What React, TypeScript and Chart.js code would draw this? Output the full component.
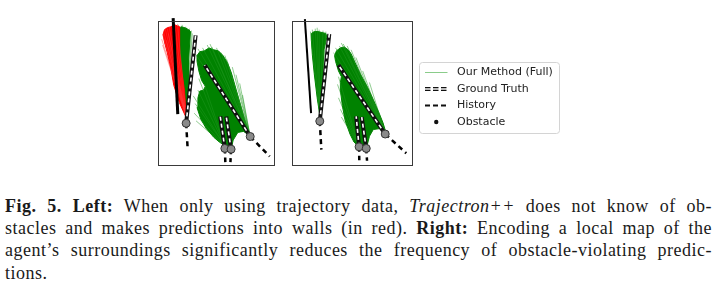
import React, { useEffect, useRef } from "react";
import { Chart, registerables } from "chart.js";
Chart.register(...registerables);

type P = [number, number];

// ---------- Left panel: Trajectron++ without map (coordinates in panel units, y down) ----------
const leftWall: P[] = [[16.3, -3], [21.3, 97]];
const leftAgents: P[] = [[30.3, 106.5], [99.3, 120.3], [72, 132.7], [78.7, 133.5]];
const leftHistoryEnds: P[] = [[32, 134], [120.3, 141], [72.5, 147], [78, 147]];
const leftTruthEnds: P[] = [[40.5, 15], [50.3, 46], [67, 99.3], [73.5, 99.5]];
const leftRedFan: P[] = [[30.5, 101], [23, 85], [17, 67], [14, 50], [10, 33], [7, 22], [5.5, 14], [7, 9], [10, 7], [14, 6], [18, 4], [23, 6], [23, 20], [23.5, 33], [26, 55], [28.5, 72], [30.5, 101]];
const leftGreenFanA: P[] = [[30.5, 100], [28, 80], [26, 67], [23, 45], [21, 25], [20.5, 12], [22, 8], [25, 6], [29, 7], [33, 9], [35, 11], [34, 25], [33, 40], [32.5, 67], [31, 90], [30.5, 100]];
const leftGreenFanB: P[] = [[72, 130], [66, 126], [60, 121], [52, 112], [46, 102], [42, 90], [43, 80], [45, 73], [49, 72], [51, 68], [47, 62], [44, 52], [42, 42], [42, 36], [45, 32], [50, 31], [55, 28], [60, 30], [65, 31], [70, 36], [75, 44], [79, 54], [84, 71], [89, 88], [93, 102], [97, 114], [99, 119], [92, 115], [86, 116], [81, 124], [79, 132], [72, 130]];
const leftRedTips: P[] = [[5, 14], [6, 11], [8, 9], [10, 8], [12, 6], [15, 4], [18, 3], [9, 20], [11, 13], [4, 19], [5, 25], [21, 3]];
const leftGreenTipsA: P[] = [[22, 4], [26, 4], [30, 6], [34, 8], [36, 10], [37, 13]];
const leftGreenTipsB2: P[] = [[40, 34], [43, 29], [48, 28], [53, 25], [58, 27], [63, 28], [68, 33], [74, 40], [80, 48], [84, 56], [88, 65], [91, 77], [56, 24], [72, 36]];
const leftGreenTipsB3: P[] = [[38, 78], [40, 86], [39, 96], [43, 72], [44, 60], [50, 66], [41, 104]];

// ---------- Right panel: with local map encoding ----------
const rightWall: P[] = [[13.3, -2], [19.7, 96]];
const rightAgents: P[] = [[28.7, 104.3], [96.3, 117.7], [69.3, 131], [76.7, 132.7]];
const rightHistoryEnds: P[] = [[30.3, 134], [118, 137.7], [69.5, 145], [77.5, 145.5]];
const rightTruthEnds: P[] = [[38.5, 13.5], [48, 46], [66.3, 99.3], [72, 100]];
const rightGreenFanA: P[] = [[29, 100], [26, 80], [23, 55], [21, 35], [20, 20], [20, 13], [23, 11], [27, 11], [31, 12], [35, 13], [36, 17], [33, 30], [32, 50], [31, 75], [30, 92], [29, 100]];
const rightGreenFanB: P[] = [[69, 131], [64, 126], [60, 118], [55, 104], [52, 88], [50, 72], [50, 64], [51, 58], [48, 52], [45, 42], [44, 36], [46, 31], [50, 28], [54, 27], [58, 30], [61, 34], [65, 43], [71, 56], [78, 69], [84, 82], [90, 96], [94, 106], [97, 116], [91, 112], [84, 113], [80, 120], [77, 132], [69, 131]];
const rightGreenTipsA: P[] = [[19, 11], [21, 9], [24, 8], [28, 9], [32, 10], [35, 11], [26, 7]];
const rightGreenTipsB2: P[] = [[43, 33], [45, 28], [49, 26], [53, 24], [57, 26], [61, 30], [66, 38], [73, 52], [80, 64], [51, 23]];
const rightGreenTipsB3: P[] = [[48, 58], [47, 66], [48, 80], [50, 92], [51, 100]];

// ---------- Legend ----------
const legendLabels = ["Our Method (Full)", "Ground Truth", "History", "Obstacle"];

const GREEN = "rgb(0,130,0)";
const GREEN_HAIR = "rgba(30,150,30,0.55)";
const RED = "rgb(255,0,0)";
const RED_HAIR = "rgba(255,60,60,0.5)";

interface Panel {
  wall: P[];
  wallWidth: number;
  agents: P[];
  historyEnds: P[];
  truthEnds: P[];
  fans: { outline: P[]; color: string; order: number }[];
  rays: { from: P; tips: P[]; color: string; order: number }[];
}

const pts = (a: P[]) => a.map(([x, y]) => ({ x, y }));

function buildDatasets(p: Panel) {
  const ds: any[] = [];
  p.fans.forEach((f) =>
    ds.push({ data: pts(f.outline), borderColor: f.color, backgroundColor: f.color, borderWidth: 1, fill: "shape", pointRadius: 0, order: f.order })
  );
  p.rays.forEach((r) =>
    r.tips.forEach((t) =>
      ds.push({ data: pts([r.from, t]), borderColor: r.color, borderWidth: 0.9, fill: false, pointRadius: 0, order: r.order })
    )
  );
  ds.push({ data: pts(p.wall), borderColor: "#000", borderWidth: p.wallWidth, fill: false, pointRadius: 0, order: 5, clip: 4 });
  p.agents.forEach((a, i) =>
    ds.push({ data: pts([a, p.truthEnds[i]]), borderColor: "#111", borderWidth: 4, fill: false, pointRadius: 0, order: 4 })
  );
  p.agents.forEach((a, i) =>
    ds.push({ data: pts([a, p.truthEnds[i]]), borderColor: "#fff", borderWidth: 1.6, borderDash: [4, 3], fill: false, pointRadius: 0, order: 3 })
  );
  p.agents.forEach((a, i) =>
    ds.push({ data: pts([a, p.historyEnds[i]]), borderColor: "#000", borderWidth: 2.5, borderDash: [5, 4], fill: false, pointRadius: 0, order: 2 })
  );
  ds.push({
    data: pts(p.agents), showLine: false, pointRadius: 4, pointBackgroundColor: "#8a8a8a",
    pointBorderColor: "#333", pointBorderWidth: 1, order: 1,
  });
  return ds;
}

const framePlugin = {
  id: "frame",
  afterDatasetsDraw(chart: any) {
    const { ctx, chartArea: a } = chart;
    ctx.save();
    ctx.strokeStyle = "#3a3a3a";
    ctx.lineWidth = 1;
    ctx.strokeRect(a.left + 0.5, a.top + 0.5, a.right - a.left - 1, a.bottom - a.top - 1);
    ctx.restore();
  },
};

const legendPlugin = {
  id: "figLegend",
  afterDraw(chart: any) {
    const ctx = chart.ctx;
    const bx = chart.chartArea.right + 6.5, by = chart.chartArea.top + 41.5, bw = 140, bh = 71;
    ctx.save();
    ctx.fillStyle = "#fff";
    ctx.strokeStyle = "#d4d4d4";
    ctx.lineWidth = 1;
    ctx.beginPath();
    ctx.roundRect(bx, by, bw, bh, 3);
    ctx.fill();
    ctx.stroke();
    const sx = bx + 5.5, ex = bx + 28, tx = bx + 37.5;
    const rows = [by + 10, by + 26.5, by + 43, by + 59.5];
    ctx.strokeStyle = "rgba(60,170,60,0.6)";
    ctx.lineWidth = 1;
    ctx.beginPath(); ctx.moveTo(sx, rows[0]); ctx.lineTo(ex, rows[0]); ctx.stroke();
    ctx.strokeStyle = "#111"; ctx.lineWidth = 4; ctx.setLineDash([5.5, 2.5]);
    ctx.beginPath(); ctx.moveTo(sx, rows[1]); ctx.lineTo(ex, rows[1]); ctx.stroke();
    ctx.setLineDash([]); ctx.strokeStyle = "#fff"; ctx.lineWidth = 1.4;
    ctx.beginPath(); ctx.moveTo(sx, rows[1]); ctx.lineTo(ex, rows[1]); ctx.stroke();
    ctx.strokeStyle = "#111"; ctx.lineWidth = 2; ctx.setLineDash([5, 3]);
    ctx.beginPath(); ctx.moveTo(sx, rows[2]); ctx.lineTo(ex, rows[2]); ctx.stroke();
    ctx.setLineDash([]);
    ctx.fillStyle = "#111";
    ctx.beginPath(); ctx.arc((sx + ex) / 2, rows[3], 2.2, 0, Math.PI * 2); ctx.fill();
    ctx.fillStyle = "#222";
    ctx.font = '11px "DejaVu Sans"';
    ctx.textBaseline = "middle";
    legendLabels.forEach((l, i) => ctx.fillText(l, tx, rows[i]));
    ctx.restore();
  },
};

function PanelChart({ panel, xMax, width, padRight, withLegend, left }: any) {
  const ref = useRef<HTMLCanvasElement>(null);
  useEffect(() => {
    const chart = new Chart(ref.current as HTMLCanvasElement, {
      type: "line",
      data: { datasets: buildDatasets(panel) },
      options: {
        animation: false,
        responsive: false,
        maintainAspectRatio: false,
        events: [],
        layout: { padding: { left: 0, top: 3, right: padRight, bottom: 0 } },
        elements: { line: { tension: 0 } },
        scales: {
          x: { type: "linear", min: 0, max: xMax, display: false },
          y: { type: "linear", min: 0, max: 151, reverse: true, display: false },
        },
        plugins: { legend: { display: false }, tooltip: { enabled: false } },
      } as any,
      plugins: withLegend ? [framePlugin, legendPlugin] : [framePlugin],
    });
    return () => chart.destroy();
  }, []);
  return (
    <canvas
      ref={ref}
      width={width}
      height={155}
      style={{ position: "absolute", left, top: 16, width, height: 155 }}
    />
  );
}

const leftPanel: Panel = {
  wall: leftWall, wallWidth: 3, agents: leftAgents, historyEnds: leftHistoryEnds, truthEnds: leftTruthEnds,
  fans: [
    { outline: leftRedFan, color: RED, order: 10 },
    { outline: leftGreenFanA, color: GREEN, order: 11 },
    { outline: leftGreenFanB, color: GREEN, order: 11 },
  ],
  rays: [
    { from: [30.5, 100], tips: leftRedTips, color: RED_HAIR, order: 9 },
    { from: [30.5, 100], tips: leftGreenTipsA, color: GREEN_HAIR, order: 12 },
    { from: [99, 119], tips: leftGreenTipsB2, color: GREEN_HAIR, order: 9 },
    { from: [72, 130], tips: leftGreenTipsB3, color: GREEN_HAIR, order: 9 },
  ],
};

const rightPanel: Panel = {
  wall: rightWall, wallWidth: 2, agents: rightAgents, historyEnds: rightHistoryEnds, truthEnds: rightTruthEnds,
  fans: [
    { outline: rightGreenFanA, color: GREEN, order: 10 },
    { outline: rightGreenFanB, color: GREEN, order: 10 },
  ],
  rays: [
    { from: [29, 100], tips: rightGreenTipsA, color: GREEN_HAIR, order: 9 },
    { from: [96, 116], tips: rightGreenTipsB2, color: GREEN_HAIR, order: 9 },
    { from: [69, 130], tips: rightGreenTipsB3, color: GREEN_HAIR, order: 9 },
  ],
};

const lineStyle: React.CSSProperties = { textAlign: "justify", textAlignLast: "justify" as any, height: 22.2, whiteSpace: "nowrap" };

export default function App() {
  return (
    <div style={{ position: "absolute", left: 0, top: 0, width: 720, height: 286, background: "#fff", overflow: "hidden" }}>
      <PanelChart panel={leftPanel} xMax={126} width={127} padRight={0} withLegend={false} left={153} />
      <PanelChart panel={rightPanel} xMax={125} width={280} padRight={154} withLegend={true} left={287} />
      <div
        style={{
          position: "absolute", left: 5, top: 195, width: 707,
          fontFamily: '"Liberation Serif", serif', fontSize: 18, lineHeight: "22.2px", color: "#1a1a1a",
          letterSpacing: "0.5px",
        }}
      >
        <div style={lineStyle}>
          <b>Fig. 5. Left:</b> When only using trajectory data, <i>Trajectron++</i> does not know of ob-
        </div>
        <div style={lineStyle}>
          stacles and makes predictions into walls (in red). <b>Right:</b> Encoding a local map of the
        </div>
        <div style={lineStyle}>
          agent’s surroundings significantly reduces the frequency of obstacle-violating predic-
        </div>
        <div style={{ height: 22.2 }}>tions.</div>
      </div>
    </div>
  );
}
